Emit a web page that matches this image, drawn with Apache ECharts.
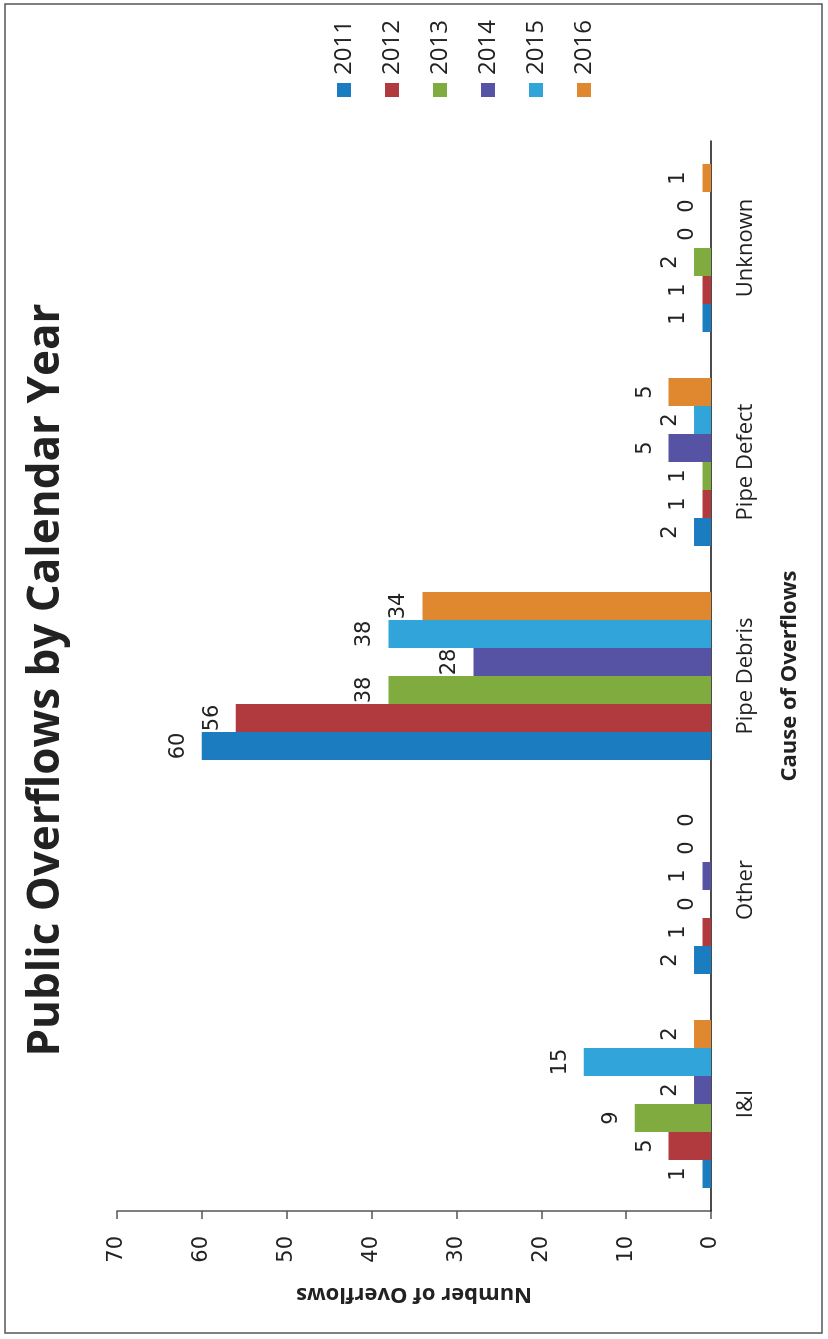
<!DOCTYPE html>
<html>
<head>
<meta charset="utf-8">
<title>Public Overflows by Calendar Year</title>
<script src="https://cdn.jsdelivr.net/npm/echarts@6/dist/echarts.min.js"></script>
<style>
  html, body { margin: 0; padding: 0; width: 828px; height: 1339px; overflow: hidden; background: #fff; }
  /* The chart is laid out landscape and turned a quarter-turn onto the portrait page */
  #chart {
    position: absolute; left: 0; top: 0;
    width: 1339px; height: 828px;
    transform-origin: 0 0;
    transform: translate(0, 1339px) rotate(-90deg);
  }
</style>
</head>
<body>
<div id="chart"></div>
<script>
// Causes of overflow (category axis)
const causes = ['I&I', 'Other', 'Pipe Debris', 'Pipe Defect', 'Unknown'];
// Calendar years (one series each)
const years = ['2011', '2012', '2013', '2014', '2015', '2016'];
// Number of overflows per cause, by year
const counts2011 = [1, 2, 60, 2, 1];
const counts2012 = [5, 1, 56, 1, 1];
const counts2013 = [9, 0, 38, 1, 2];
const counts2014 = [2, 1, 28, 5, 0];
const counts2015 = [15, 0, 38, 2, 0];
const counts2016 = [2, 0, 34, 5, 1];
// Value axis ticks
const valueTicks = [0, 10, 20, 30, 40, 50, 60, 70];

const yearCounts = [counts2011, counts2012, counts2013, counts2014, counts2015, counts2016];
const yearColors = ['#1b7cc0', '#b03a3e', '#7fab3f', '#5653a4', '#31a5d9', '#e0882f'];

const digitFont = '"DejaVu Sans", "Liberation Sans", sans-serif';
const sansFont = '"Open Sans", "Noto Sans", sans-serif';

const chart = echarts.init(document.getElementById('chart'), null, { renderer: 'canvas' });

const series = years.map((y, i) => ({
  name: y,
  type: 'bar',
  data: yearCounts[i],
  barGap: '0%',
  barCategoryGap: '21.5%',
  itemStyle: { color: yearColors[i] },
  label: {
    show: true,
    position: 'top',
    distance: 13,
    fontFamily: digitFont,
    fontSize: 21,
    color: '#222'
  }
}));

chart.setOption({
  animation: false,
  backgroundColor: '#fff',
  graphic: [{
    type: 'rect',
    shape: { x: 6, y: 5, width: 1329, height: 817 },
    style: { fill: 'none', stroke: '#555', lineWidth: 1.5 },
    silent: true
  }],
  title: {
    text: 'Public Overflows by Calendar Year',
    left: 654,
    textAlign: 'center',
    top: 19,
    textStyle: {
      fontFamily: sansFont,
      fontWeight: 'bold',
      fontSize: 44,
      color: '#222'
    }
  },
  legend: {
    data: years,
    orient: 'vertical',
    left: 1242,
    top: 332,
    padding: 0,
    itemWidth: 14,
    itemHeight: 14,
    itemGap: 24,
    icon: 'rect',
    textStyle: {
      fontFamily: sansFont,
      fontSize: 24,
      color: '#222',
      padding: [0, 0, 0, 3]
    }
  },
  grid: {
    left: 128,
    right: 141,
    top: 117,
    bottom: 117,
    containLabel: false
  },
  xAxis: {
    type: 'category',
    data: causes,
    name: 'Cause of Overflows',
    nameLocation: 'middle',
    nameGap: 68,
    nameTextStyle: {
      fontFamily: sansFont,
      fontWeight: 'bold',
      fontSize: 22,
      color: '#222'
    },
    axisLine: { show: true, lineStyle: { color: '#111', width: 1.5 } },
    axisTick: { show: false },
    axisLabel: {
      margin: 24,
      fontFamily: sansFont,
      fontSize: 22,
      color: '#222'
    }
  },
  yAxis: {
    type: 'value',
    min: valueTicks[0],
    max: valueTicks[valueTicks.length - 1],
    interval: valueTicks[1] - valueTicks[0],
    name: 'Number of Overflows',
    nameLocation: 'middle',
    nameGap: 72,
    nameTextStyle: {
      fontFamily: sansFont,
      fontWeight: 'bold',
      fontSize: 22,
      color: '#222'
    },
    axisLine: { show: true, lineStyle: { color: '#555', width: 1.5 } },
    axisTick: { show: true, length: 8, lineStyle: { color: '#555', width: 1.5 } },
    axisLabel: {
      margin: 25,
      fontFamily: digitFont,
      fontSize: 21,
      color: '#222'
    },
    splitLine: { show: false }
  },
  series: series
});
</script>
</body>
</html>
